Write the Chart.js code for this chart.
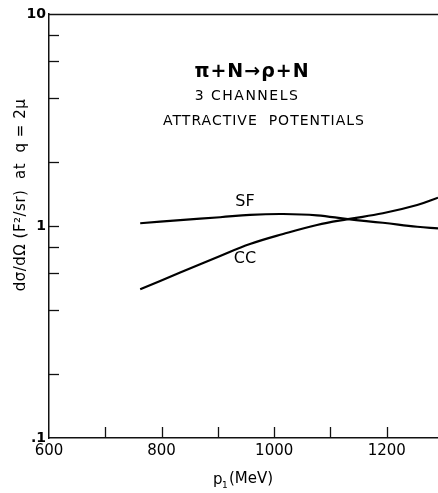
<!DOCTYPE html>
<html>
<head>
<meta charset="utf-8">
<script src="https://cdn.jsdelivr.net/npm/chart.js@4/dist/chart.umd.min.js"></script>
<style>
html,body{margin:0;padding:0;background:#fff;}
#c{display:block;}
</style>
</head>
<body>
<canvas id="c" width="438" height="493"></canvas>
<script>
// ---- data ----
const momentumMeV = [762, 833, 904, 957, 1016, 1076, 1131, 1193, 1254, 1291];
const sfValues    = [1.030, 1.067, 1.100, 1.129, 1.139, 1.123, 1.077, 1.036, 0.992, 0.975];
const ccValues    = [0.503, 0.603, 0.722, 0.822, 0.917, 1.011, 1.077, 1.148, 1.256, 1.360];
const xLabelTicks = [600, 800, 1000, 1200];
const xMarkTicks  = [700, 800, 900, 1000, 1100, 1200];
const yAllTicks   = [0.1, 0.2, 0.4, 0.6, 0.8, 1, 2, 4, 6, 8, 10];
const yLabelMap   = {"0.1": ".1", "1": "1", "10": "10"};
const curveLabels = ["SF", "CC"];

const toPts = (xs, ys) => xs.map((x, i) => ({x: x, y: ys[i]}));

const decor = {
  id: 'decor',
  afterDraw(chart) {
    const ctx = chart.ctx;
    const xs = chart.scales.x, ys = chart.scales.y;
    const a = chart.chartArea;
    ctx.save();
    ctx.strokeStyle = '#111';
    ctx.lineWidth = 1.3;
    // top border
    ctx.beginPath();
    ctx.moveTo(a.left, a.top + 0.5);
    ctx.lineTo(a.right, a.top + 0.5);
    ctx.stroke();
    // inward y ticks
    yAllTicks.forEach(v => {
      if (v <= 0.1 || v >= 10) return;
      const py = Math.round(ys.getPixelForValue(v)) + 0.5;
      ctx.beginPath();
      ctx.moveTo(a.left, py);
      ctx.lineTo(a.left + 10, py);
      ctx.stroke();
    });
    // inward x ticks
    xMarkTicks.forEach(v => {
      const px = Math.round(xs.getPixelForValue(v)) + 0.5;
      ctx.beginPath();
      ctx.moveTo(px, a.bottom);
      ctx.lineTo(px, a.bottom - 11);
      ctx.stroke();
    });
    // annotation texts
    ctx.fillStyle = '#000';
    ctx.textAlign = 'center';
    ctx.textBaseline = 'middle';
    ctx.font = 'bold 19px "DejaVu Sans"';
    ctx.letterSpacing = '1px';
    ctx.fillText('\u03C0+N\u2192\u03C1+N', 252, 72);
    ctx.font = '14px "DejaVu Sans"';
    ctx.letterSpacing = '1.5px';
    ctx.fillText('3 CHANNELS', 247, 96);
    ctx.letterSpacing = '1px';
    ctx.fillText('ATTRACTIVE  POTENTIALS', 264, 121);
    ctx.letterSpacing = '0px';
    ctx.font = '16px "DejaVu Sans"';
    ctx.fillText(curveLabels[0], 245, 202);
    ctx.fillText(curveLabels[1], 245, 259);
    // y axis title
    ctx.save();
    ctx.translate(21, 195);
    ctx.rotate(-Math.PI / 2);
    ctx.font = '15px "DejaVu Sans"';
    ctx.letterSpacing = '0.5px';
    ctx.fillText('d\u03C3/d\u03A9 (F\u00B2/sr)  at  q = 2\u03BC', 0, 0);
    ctx.restore();
    // x axis title
    ctx.font = '15px "DejaVu Sans"';
    ctx.letterSpacing = '0px';
    ctx.textAlign = 'left';
    ctx.fillText('p', 213, 480);
    ctx.font = '9px "DejaVu Sans"';
    ctx.fillText('1', 222, 486);
    ctx.font = '15px "DejaVu Sans"';
    ctx.fillText('(MeV)', 229, 479);
    ctx.restore();
  }
};

new Chart(document.getElementById('c'), {
  type: 'line',
  data: {
    datasets: [
      { label: curveLabels[0], data: toPts(momentumMeV, sfValues), borderColor: '#000', borderWidth: 2.2,
        pointRadius: 0, fill: false, tension: 0.4 },
      { label: curveLabels[1], data: toPts(momentumMeV, ccValues), borderColor: '#000', borderWidth: 2.2,
        pointRadius: 0, fill: false, tension: 0.4 }
    ]
  },
  options: {
    responsive: false,
    animation: false,
    devicePixelRatio: 1,
    layout: { padding: { top: 14, right: 0, left: 0, bottom: 0 } },
    plugins: { legend: { display: false }, tooltip: { enabled: false } },
    scales: {
      x: {
        type: 'linear', min: 600, max: 1291,
        afterBuildTicks: s => { s.ticks = xLabelTicks.map(v => ({value: v})); },
        afterFit: s => { s.height = 55; },
        ticks: { autoSkip: false, maxRotation: 0, padding: 4, color: '#000',
                 font: { family: 'DejaVu Sans', size: 15 },
                 callback: v => String(v) },
        grid: { display: false, drawTicks: false },
        border: { display: true, color: '#111', width: 1.5 }
      },
      y: {
        type: 'logarithmic', min: 0.1, max: 10,
        afterBuildTicks: s => { s.ticks = yAllTicks.map(v => ({value: v})); },
        afterFit: s => { s.width = 49; },
        ticks: { autoSkip: false, padding: 3, color: '#000',
                 font: { family: 'DejaVu Sans', size: 14, weight: 'bold' },
                 callback: v => yLabelMap[String(v)] || '' },
        grid: { display: false, drawTicks: false },
        border: { display: true, color: '#111', width: 1.5 }
      }
    }
  },
  plugins: [decor]
});
</script>
</body>
</html>
